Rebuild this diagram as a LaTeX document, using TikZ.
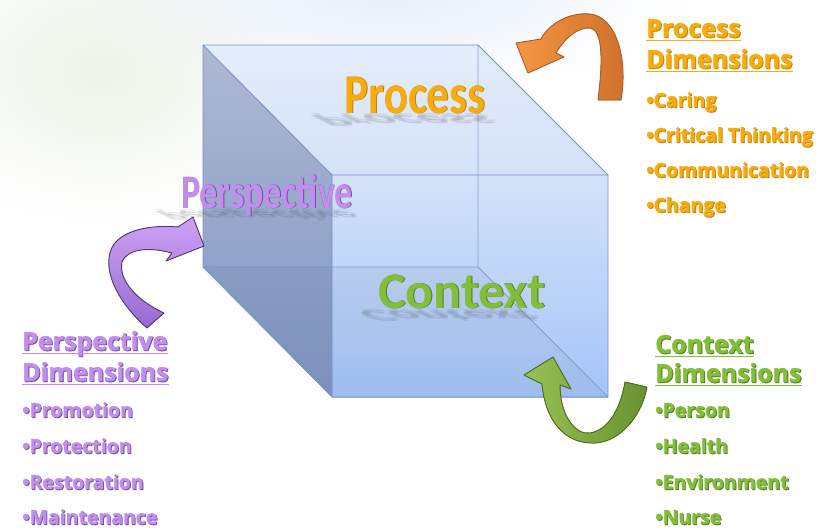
\documentclass[tikz,border=0pt]{standalone}
\usepackage{fontspec}
\setmainfont{Open Sans}[BoldFeatures={FakeBold=1.6}]
\newfontfamily\bigfont{Carlito}
\usetikzlibrary{calc,fadings}
\tikzfading[name=hazefade,inner color=transparent!0,outer color=transparent!100]
\definecolor{frontTop}{RGB}{212,226,248}
\definecolor{frontBot}{RGB}{164,197,248}
\definecolor{topA}{RGB}{228,237,250}
\definecolor{topB}{RGB}{212,226,248}
\definecolor{leftA}{RGB}{174,185,210}
\definecolor{leftB}{RGB}{128,150,196}
\definecolor{edgeC}{RGB}{116,146,198}
\definecolor{procC}{RGB}{246,172,12}
\definecolor{procD}{RGB}{196,126,10}
\definecolor{persC}{RGB}{194,142,238}
\definecolor{persD}{RGB}{112,74,160}
\definecolor{contC}{RGB}{130,190,56}
\definecolor{contD}{RGB}{78,122,32}
\definecolor{orL}{RGB}{244,150,66}
\definecolor{orD}{RGB}{206,112,42}
\definecolor{orE}{RGB}{170,92,40}
\definecolor{puL}{RGB}{206,162,246}
\definecolor{puD}{RGB}{150,106,210}
\definecolor{puE}{RGB}{82,56,112}
\definecolor{grL}{RGB}{152,194,82}
\definecolor{grD}{RGB}{104,146,46}
\definecolor{grE}{RGB}{76,106,36}
\definecolor{hazeG}{RGB}{238,243,232}
\definecolor{hazeB}{RGB}{230,239,250}
\newcommand\lbl[6]{%
  \node[#2,text=#4] (#1s) at ($(#5)+(0.9,0.9)$) {#6};
  \node[#2,text=#3] (#1) at (#5) {#6};}
\begin{document}
\begin{tikzpicture}[x=1pt,y=-1pt,
  bigl/.style={anchor=base,inner sep=0pt,font=\bigfont\bfseries\fontsize{#1}{#1}\selectfont},
  hd/.style={anchor=base west,inner sep=0pt,font=\bfseries\fontsize{25}{25}\selectfont},
  itm/.style={anchor=base west,inner sep=0pt,font=\bfseries\fontsize{19.5}{19.5}\selectfont},
  refl/.style={anchor=base,inner sep=0pt,transform shape,text=black!75,opacity=0.16,font=\bigfont\bfseries\fontsize{#1}{#1}\selectfont},
  edge/.style={draw=edgeC,line width=0.8pt},
  arr/.style={line width=0.9pt,line join=round}]
\useasboundingbox (0,0) rectangle (836,528);
\fill[white] (0,0) rectangle (836,528);
% background haze
\fill[hazeG,path fading=hazefade] (100,70) ellipse [x radius=200,y radius=150];
\fill[hazeB,path fading=hazefade] (390,-10) ellipse [x radius=300,y radius=100];
% cube
\coordinate (B1) at (203,45); \coordinate (B2) at (478,45);
\coordinate (B3) at (478,267); \coordinate (B4) at (203,267);
\coordinate (F1) at (332,175); \coordinate (F2) at (608,175);
\coordinate (F3) at (608,397); \coordinate (F4) at (332,397);
\shade[top color=topA,bottom color=topB] (B1)--(B2)--(F2)--(F1)--cycle;
\shade[top color=frontTop,bottom color=frontBot] (F1)--(F2)--(F3)--(F4)--cycle;
\shade[top color=leftA,bottom color=leftB] (B1)--(F1)--(F4)--(B4)--cycle;
\fill[black,opacity=0.04] (B4)--(B3)--(F3)--(F4)--cycle;
\draw[edge,draw opacity=0.8] (B4)--(B3)--(B2) (B3)--(F3);
\draw[edge] (B1)--(B2)--(F2)--(F3)--(F4)--(B4)--cycle;
\draw[edge] (B1)--(F1)--(F2) (F1)--(F4);
% reflections
\begin{scope}[shift={(395,115)},yscale=-0.3,xslant=0.6]
  \node[refl=56] (procR) at (0,0) {\scalebox{1.0}[1]{Process}};
  \node[refl=56,opacity=0.1] (procR2) at (3,4) {\scalebox{1.0}[1]{Process}};
\end{scope}
\begin{scope}[shift={(250,211)},yscale=-0.28,xslant=0.6]
  \node[refl=48] (persR) at (0,0) {\scalebox{0.85}[1]{Perspective}};
  \node[refl=48,opacity=0.1] (persR2) at (3,4) {\scalebox{0.85}[1]{Perspective}};
\end{scope}
\begin{scope}[shift={(440,311)},yscale=-0.3,xslant=0.6]
  \node[refl=51] (contR) at (0,0) {\scalebox{1.05}[1]{Context}};
  \node[refl=51,opacity=0.1] (contR2) at (3,4) {\scalebox{1.05}[1]{Context}};
\end{scope}
% big labels
\lbl{procL}{bigl=56}{procC}{procD}{415,113}{\scalebox{0.8}[1]{Process}}
\lbl{persL}{bigl=48}{persC}{persD}{267,208}{\scalebox{0.75}[1]{Perspective}}
\lbl{contL}{bigl=51}{contC}{contD}{462,308}{\scalebox{1.02}[1]{Context}}
% orange arrow
\filldraw[arr,draw=orE,left color=orL,right color=orD]
  (621,100) .. controls (628,60) and (617,17) .. (590,14)
  .. controls (568,12) and (548,25) .. (541,39)
  -- (516,43) -- (528,73) -- (564,57) -- (556,53)
  .. controls (565,38) and (578,27) .. (590,28)
  .. controls (601,30) and (604,52) .. (598,100) -- cycle;
% purple arrow
\filldraw[arr,draw=puE,top color=puL,bottom color=puD]
  (147,328) .. controls (115,300) and (100,265) .. (114,244)
  .. controls (127,228) and (155,225) .. (178,227)
  -- (193,217) -- (204,246) -- (166,261) -- (172,253)
  .. controls (150,247) and (128,248) .. (122,262)
  .. controls (118,282) and (140,302) .. (164,313) -- cycle;
% green arrow
\filldraw[arr,draw=grE,left color=grL,right color=grD]
  (647,387) .. controls (641,420) and (616,445) .. (590,443)
  .. controls (564,442) and (545,420) .. (542,384)
  -- (524,375) -- (553,357) -- (571,389) -- (560,385)
  .. controls (560,415) and (575,435) .. (590,433)
  .. controls (608,430) and (620,410) .. (625,382) -- cycle;
% Process dimensions
\lbl{ph1}{hd}{procC}{procD}{646,37}{Process}
\lbl{ph2}{hd}{procC}{procD}{646,68}{Dimensions}
\draw[procC,line width=1.6pt] ($(ph1.base west)+(0,3.5)$) -- ($(ph1.base east)+(0,3.5)$);
\draw[procC,line width=1.6pt] ($(ph2.base west)+(0,3.5)$) -- ($(ph2.base east)+(0,3.5)$);
\lbl{pi1}{itm}{procC}{procD}{646,107}{•Caring}
\lbl{pi2}{itm}{procC}{procD}{646,142}{•Critical Thinking}
\lbl{pi3}{itm}{procC}{procD}{646,177}{•Communication}
\lbl{pi4}{itm}{procC}{procD}{646,212}{•Change}
% Perspective dimensions
\lbl{sh1}{hd}{persC}{persD}{22,350}{Perspective}
\lbl{sh2}{hd}{persC}{persD}{22,381}{Dimensions}
\draw[persC,line width=1.6pt] ($(sh1.base west)+(0,3.5)$) -- ($(sh1.base east)+(0,3.5)$);
\draw[persC,line width=1.6pt] ($(sh2.base west)+(0,3.5)$) -- ($(sh2.base east)+(0,3.5)$);
\lbl{si1}{itm}{persC}{persD}{22,417}{•Promotion}
\lbl{si2}{itm}{persC}{persD}{22,453}{•Protection}
\lbl{si3}{itm}{persC}{persD}{22,489}{•Restoration}
\lbl{si4}{itm}{persC}{persD}{22,524}{•Maintenance}
% Context dimensions
\lbl{ch1}{hd}{contC}{contD}{655,353}{Context}
\lbl{ch2}{hd}{contC}{contD}{655,382}{Dimensions}
\draw[contC,line width=1.6pt] ($(ch1.base west)+(0,3.5)$) -- ($(ch1.base east)+(0,3.5)$);
\draw[contC,line width=1.6pt] ($(ch2.base west)+(0,3.5)$) -- ($(ch2.base east)+(0,3.5)$);
\lbl{ci1}{itm}{contC}{contD}{655,417}{•Person}
\lbl{ci2}{itm}{contC}{contD}{655,453}{•Health}
\lbl{ci3}{itm}{contC}{contD}{655,489}{•Environment}
\lbl{ci4}{itm}{contC}{contD}{655,524}{•Nurse}
\end{tikzpicture}
\end{document}
